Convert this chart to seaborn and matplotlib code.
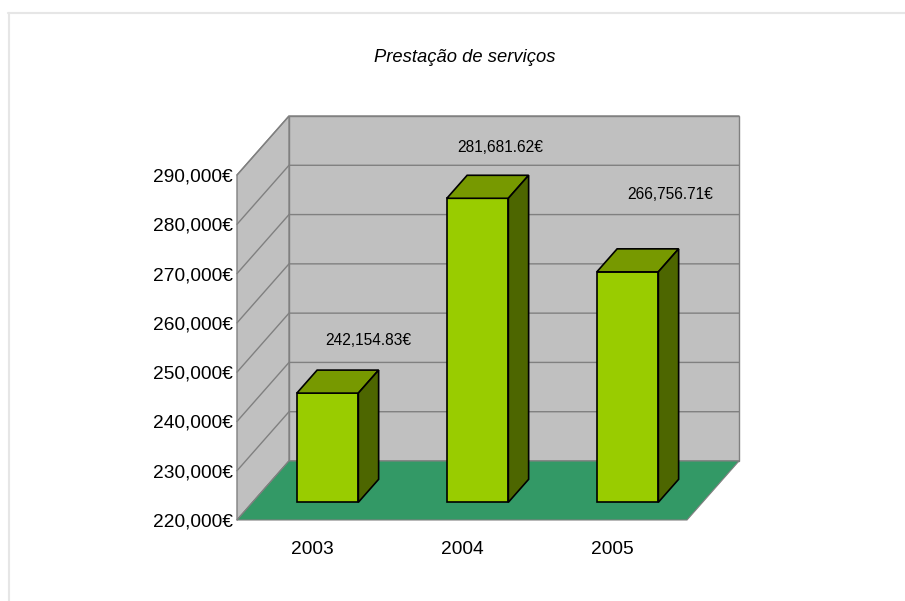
import matplotlib
matplotlib.use("Agg")
import matplotlib.pyplot as plt
from matplotlib import font_manager
from matplotlib.patches import Polygon
from matplotlib.lines import Line2D
import pandas as pd
import seaborn as sns

# ---- data -------------------------------------------------------------
years = ["2003", "2004", "2005"]
receipts = [242154.83, 281681.62, 266756.71]
value_labels = ["242,154.83€", "281,681.62€", "266,756.71€"]
y_ticks = [220000, 230000, 240000, 250000, 260000, 270000, 280000, 290000]
title = "Prestação de serviços"

# ---- style ------------------------------------------------------------
WALL = "#c0c0c0"
GRID = "#808080"
FLOOR = "#339966"
FRONT = "#99cc00"
TOP = "#779900"
SIDE = "#4d6600"

sns.set_style("white")
installed = {f.name for f in font_manager.fontManager.ttflist}
FONT = "Liberation Sans Narrow" if "Liberation Sans Narrow" in installed else "Liberation Sans"
plt.rcParams["font.family"] = [FONT, "DejaVu Sans"]
plt.rcParams["text.color"] = "black"
plt.rcParams["xtick.color"] = "black"
plt.rcParams["ytick.color"] = "black"

fig = plt.figure(figsize=(9.05, 6.01), dpi=100)
ax = fig.add_axes([237 / 905, 81 / 601, 450 / 905, 345 / 601])

df = pd.DataFrame({"year": years, "value": receipts})
sns.barplot(data=df, x="year", y="value", ax=ax, width=0.41, color=FRONT,
            saturation=1, edgecolor="black", linewidth=1.2, zorder=3)
bars = list(ax.patches)

lo, hi = y_ticks[0], y_ticks[-1]
xl, xr = -0.5, len(years) - 0.5
ax.set_xlim(xl, xr)
ax.set_ylim(lo, hi)
ax.patch.set_visible(False)
for s in ax.spines.values():
    s.set_visible(False)
ax.set_xlabel("")
ax.set_ylabel("")

# depth direction of the box (pixels) converted to data units
DEPTH_PX = (52, 59)
(px0, py0), (px1, py1) = ax.transData.transform([(0, lo), (1, lo + 10000)])
dx_unit = DEPTH_PX[0] / (px1 - px0)
dy_unit = DEPTH_PX[1] / (py1 - py0) * 10000


def P(x, y, z):
    """Oblique projection: z=0 front plane, z=1 back wall."""
    return (x + z * dx_unit, y + z * dy_unit)


# walls and floor
ax.add_patch(Polygon([P(xl, lo, 1), P(xr, lo, 1), P(xr, hi, 1), P(xl, hi, 1)],
                     fc=WALL, ec=GRID, lw=1, zorder=0.2, clip_on=False))
ax.add_patch(Polygon([P(xl, lo, 0), P(xl, lo, 1), P(xl, hi, 1), P(xl, hi, 0)],
                     fc=WALL, ec=GRID, lw=1, zorder=0.2, clip_on=False))
for v in y_ticks:
    pts = [P(xl, v, 0), P(xl, v, 1), P(xr, v, 1)]
    ax.plot([p[0] for p in pts], [p[1] for p in pts], color=GRID, lw=1,
            zorder=0.3, clip_on=False)
ax.add_patch(Polygon([P(xl, lo, 0), P(xr, lo, 0), P(xr, lo, 1), P(xl, lo, 1)],
                     fc=FLOOR, ec=GRID, lw=0.8, zorder=0.5, clip_on=False))

# 3D bars built from the seaborn bars
Z0, Z1 = 0.30, 0.69
LABEL_SHIFT = [(20, 30), (2, 28), (22, 54)]
for rect, lbl, shift in zip(bars, value_labels, LABEL_SHIFT):
    x, w, h = rect.get_x(), rect.get_width(), rect.get_height()
    rect.set_xy(P(x, lo, Z0))
    rect.set_height(h - lo)
    rect.set_clip_on(False)
    ax.add_patch(Polygon([P(x, h, Z0), P(x + w, h, Z0), P(x + w, h, Z1), P(x, h, Z1)],
                         fc=TOP, ec="black", lw=1.2, zorder=3, clip_on=False))
    ax.add_patch(Polygon([P(x + w, lo, Z0), P(x + w, lo, Z1), P(x + w, h, Z1), P(x + w, h, Z0)],
                         fc=SIDE, ec="black", lw=1.2, zorder=3, clip_on=False))
    ax.annotate(lbl, xy=P(x + w / 2, h, Z1), xytext=shift, textcoords="offset pixels",
                ha="center", va="center", fontsize=11.2, color="black",
                annotation_clip=False, zorder=4)

# axes ticks
ax.set_yticks(y_ticks, labels=[f"{v:,}€" for v in y_ticks])
ax.tick_params(axis="y", length=0, pad=3, labelsize=13.8)
ax.set_xticks(range(len(years)), labels=years)
ax.set_xticks([0.5, 1.5, 2.5], minor=True)
ax.tick_params(axis="x", which="major", length=0, pad=15, labelsize=13.8)
ax.tick_params(axis="x", which="minor", length=5, width=1, color=GRID, direction="out")

fig.text(465 / 905, 1 - 58 / 601, title, ha="center", va="center",
         fontsize=13.2, style="italic", color="black")

# faint frame of the chart area
fig.add_artist(Line2D([8 / 905, 1], [1 - 12.5 / 601] * 2, transform=fig.transFigure,
                      color="#e6e6e6", lw=1.5))
fig.add_artist(Line2D([8.5 / 905] * 2, [0, 1 - 12.5 / 601], transform=fig.transFigure,
                      color="#e6e6e6", lw=1.5))

fig.savefig("out.png", dpi=100, facecolor="white")
